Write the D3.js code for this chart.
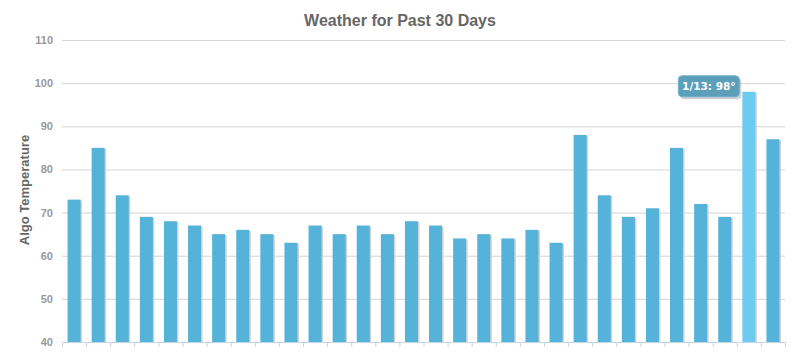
<!DOCTYPE html>
<html>
<head>
<meta charset="utf-8">
<script src="https://cdn.jsdelivr.net/npm/d3@7"></script>
<style>
  body { margin: 0; background: #fff; font-family: "Liberation Sans", Arial, sans-serif; }
</style>
</head>
<body>
<div id="container"></div>
<script>
const width = 800,
  height = 354,
  margin = { top: 40, right: 15, bottom: 12, left: 62 };

// data
const days = ["12/16", "12/17", "12/18", "12/19", "12/20", "12/21", "12/22", "12/23", "12/24", "12/25",
  "12/26", "12/27", "12/28", "12/29", "12/30", "12/31", "1/1", "1/2", "1/3", "1/4",
  "1/5", "1/6", "1/7", "1/8", "1/9", "1/10", "1/11", "1/12", "1/13", "1/14"];
const temps = [73, 85, 74, 69, 68, 67, 65, 66, 65, 63,
  67, 65, 67, 65, 68, 67, 64, 65, 64, 66,
  63, 88, 74, 69, 71, 85, 72, 69, 98, 87];
const yTicks = [40, 50, 60, 70, 80, 90, 100, 110];
const hoverDay = "1/13";

const rows = days.map((d, i) => ({ day: d, temp: temps[i] }));

/* SCALES */
const xScale = d3.scaleBand()
  .domain(days)
  .range([margin.left, width - margin.right])
  .paddingInner(0.46)
  .paddingOuter(0.23);

const yScale = d3.scaleLinear()
  .domain([40, 110])
  .range([height - margin.bottom, margin.top]);

const svg = d3.select("#container").append("svg")
  .attr("width", width)
  .attr("height", height);

// title
svg.append("text")
  .attr("x", width / 2)
  .attr("y", 26)
  .attr("text-anchor", "middle")
  .attr("font-size", "16px")
  .attr("font-weight", "bold")
  .attr("fill", "#666")
  .text("Weather for Past 30 Days");

// gridlines + y labels
const yAxis = d3.axisLeft(yScale)
  .tickValues(yTicks)
  .tickSize(-(width - margin.right - margin.left))
  .tickPadding(9);

svg.append("g")
  .attr("class", "y-axis")
  .attr("transform", `translate(${margin.left},0)`)
  .call(yAxis)
  .call(g => g.select(".domain").remove())
  .call(g => g.selectAll("line").attr("stroke", "#d4d4d4"))
  .call(g => g.selectAll("text")
    .attr("fill", "#999")
    .attr("font-size", "11px")
    .attr("font-weight", "bold")
    .attr("font-family", "'Liberation Sans', Arial, sans-serif"));

svg.append("text")
  .attr("transform", "rotate(-90)")
  .attr("x", -190)
  .attr("y", 29)
  .attr("text-anchor", "middle")
  .attr("font-size", "13px")
  .attr("font-weight", "bold")
  .attr("fill", "#666")
  .text("Algo Temperature");

// bar shadows
svg.selectAll("rect.shadow")
  .data(rows)
  .join("rect")
  .attr("class", "shadow")
  .attr("x", d => xScale(d.day) + 1.5)
  .attr("y", d => yScale(d.temp) + 1)
  .attr("width", xScale.bandwidth())
  .attr("height", d => yScale(40) - yScale(d.temp) - 1)
  .attr("fill", "#d2d2d2");

// bars
svg.selectAll("rect.bar")
  .data(rows)
  .join("rect")
  .attr("class", "bar")
  .attr("x", d => xScale(d.day))
  .attr("y", d => yScale(d.temp))
  .attr("width", xScale.bandwidth())
  .attr("height", d => yScale(40) - yScale(d.temp))
  .attr("fill", d => d.day === hoverDay ? "#6dcbf0" : "#55b2d9");

// x axis
const xAxis = d3.axisBottom(d3.scaleLinear().domain([0, days.length]).range([margin.left, width - margin.right]))
  .tickValues(d3.range(1, days.length + 1))
  .tickSize(5)
  .tickFormat("");

svg.append("g")
  .attr("class", "x-axis")
  .attr("transform", `translate(0,${height - margin.bottom})`)
  .call(xAxis)
  .call(g => g.selectAll("line, path").attr("stroke", "#c6d6ea"));

// tooltip
const hover = rows.find(d => d.day === hoverDay);
const tipText = `${hover.day}: ${hover.temp}°`;
const tip = svg.append("g")
  .attr("transform", `translate(${xScale(hover.day) - 4},${yScale(hover.temp) - 2})`);

tip.append("rect")
  .attr("x", -59)
  .attr("y", -13)
  .attr("width", 61)
  .attr("height", 21)
  .attr("rx", 4)
  .attr("fill", "#a8a8a8")
  .attr("opacity", 0.5)
  .attr("transform", "translate(1,1.5)");

tip.append("rect")
  .attr("x", -60)
  .attr("y", -14)
  .attr("width", 61)
  .attr("height", 21)
  .attr("rx", 4)
  .attr("fill", "#5b9fba")
  .attr("stroke", "#6fb1c9");

tip.append("text")
  .attr("x", -29.5)
  .attr("y", 0)
  .attr("text-anchor", "middle")
  .attr("font-family", "'DejaVu Sans', sans-serif")
  .attr("font-size", "10.5px")
  .attr("font-weight", "bold")
  .attr("fill", "#fff")
  .text(tipText);
</script>
</body>
</html>
